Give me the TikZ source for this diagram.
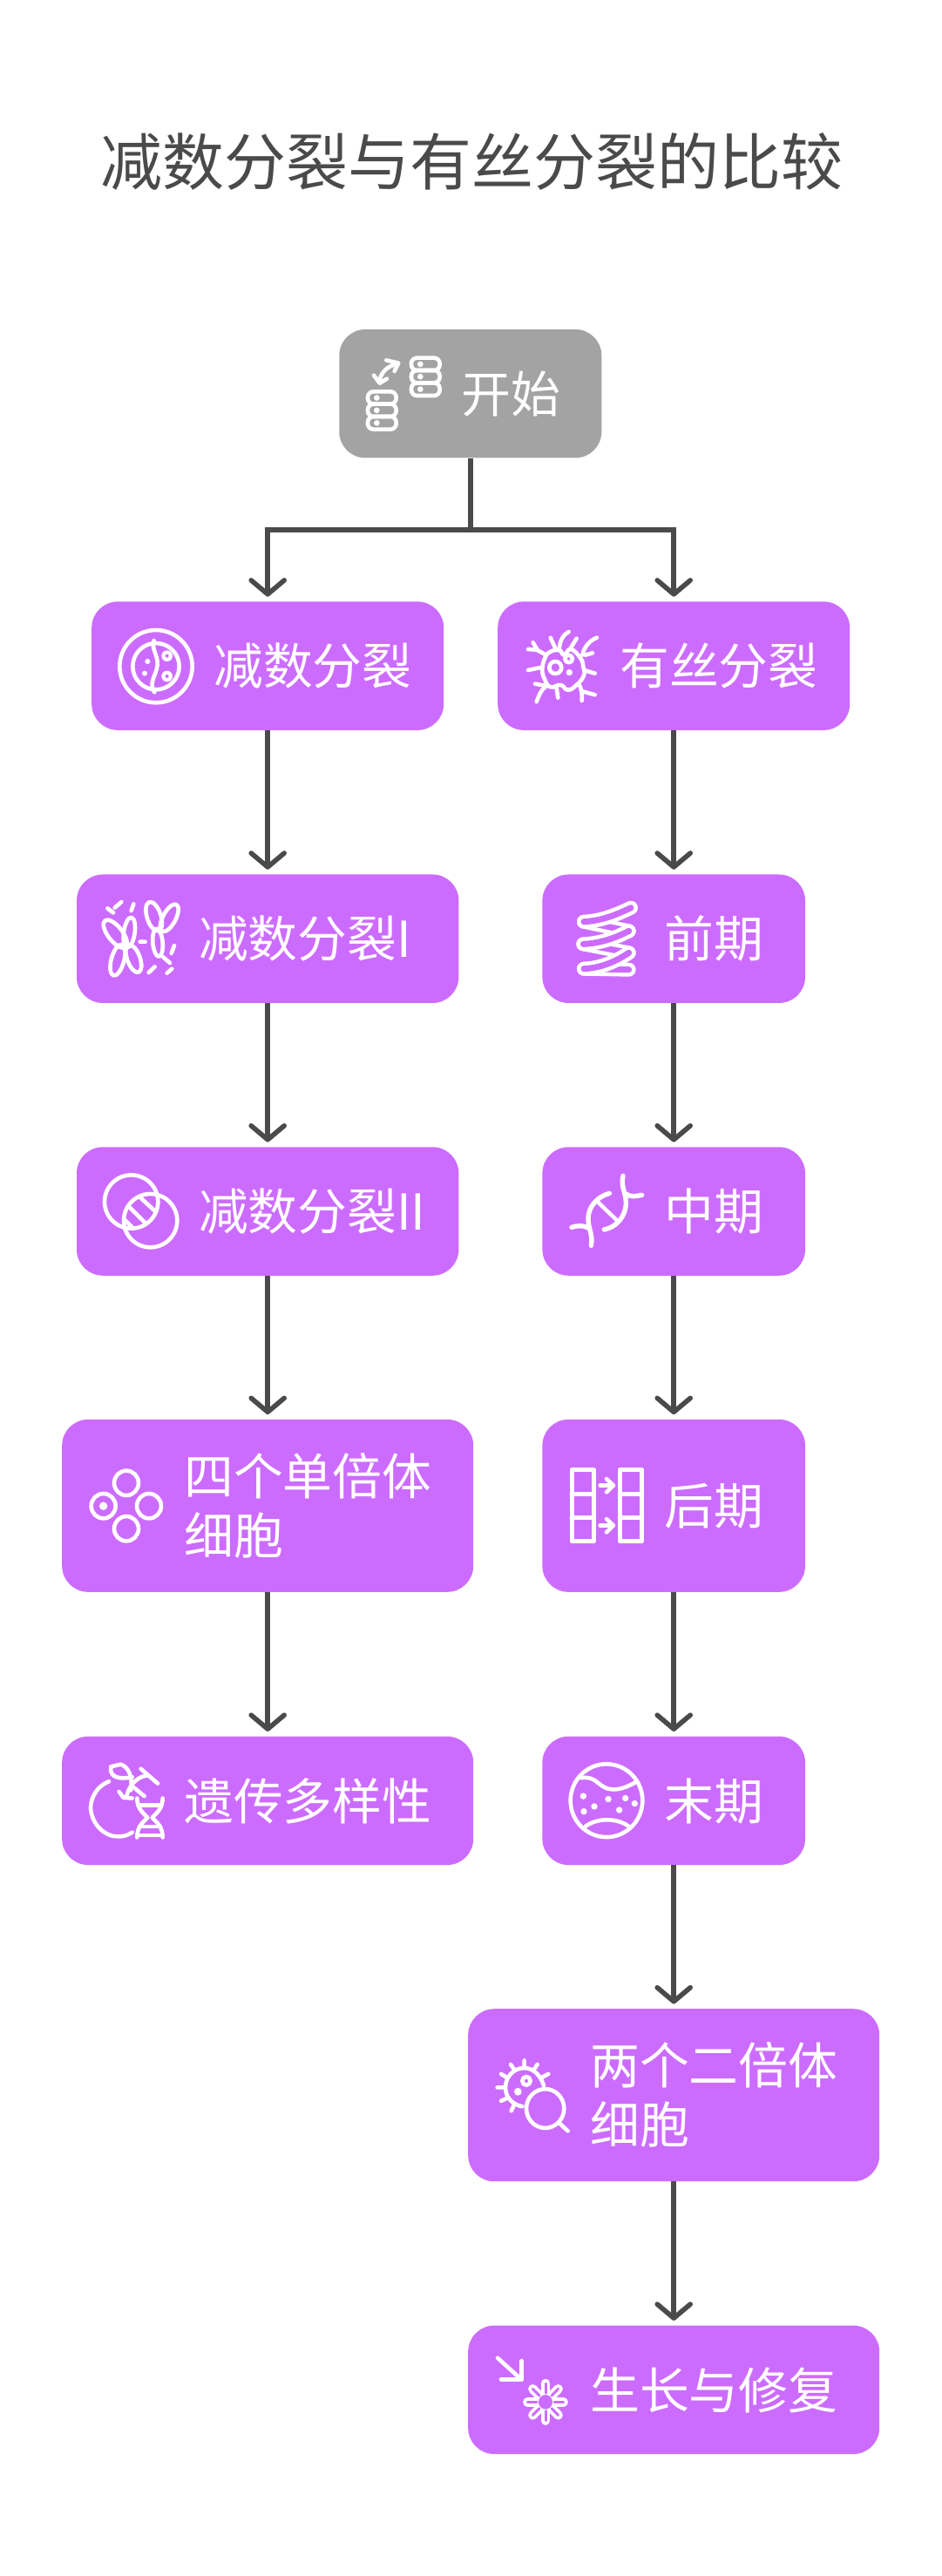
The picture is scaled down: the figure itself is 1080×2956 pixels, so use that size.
\documentclass[tikz,border=0pt]{standalone}
\usepackage{fontspec}
\setmainfont{Noto Sans CJK SC}
\usetikzlibrary{arrows.meta}
\definecolor{purp}{HTML}{CC6CFF}
\definecolor{greybox}{HTML}{A3A3A3}
\definecolor{ink}{HTML}{4A4A4A}
\newcommand{\lbst}{\rule[-12.3pt]{0pt}{68pt}}
\newcommand{\bt}[3]{\parbox{#1pt}{\fontsize{56.8pt}{68pt}\selectfont\leftskip=#2pt\relax\rightskip=0pt plus 1fil\relax #3}}
\tikzset{
 flowbox/.style={rounded corners=30pt,inner sep=0pt,fill=purp,text=white,minimum height=147.5pt},
 tallbox/.style={flowbox,minimum height=198pt},
 startbox/.style={flowbox,fill=greybox},
 link/.style={draw=ink,line width=5.6pt},
 arrowlink/.style={link,-{Straight Barb[length=16pt,width=38pt,round]},shorten >=5.5pt},
 icon/.style={draw=white,line width=4.6pt,line cap=round,line join=round},
 idot/.style={fill=white,draw=none},
 crop/.style n args={3}{xshift=#1pt,yshift=-#2pt,x=0.33333pt,y=#3pt},
}
\begin{document}
\begin{tikzpicture}[x=1pt,y=-1pt]
\useasboundingbox[fill=white] (0,0) rectangle (1080,2956);
\node[text=ink,inner sep=0pt,font=\fontsize{71pt}{80pt}\selectfont] (title) at (541,185) {减数分裂与有丝分裂的比较};

\node[startbox,minimum width=301pt] (start) at (539.8,451.7) {\bt{301}{140}{\lbst 开始}};
\node[flowbox,minimum width=404pt] (meiosis) at (307.2,764.1) {\bt{404}{140}{\lbst 减数分裂}};
\node[flowbox,minimum width=404pt] (mitosis) at (773.2,764.1) {\bt{404}{140}{\lbst 有丝分裂}};
\node[flowbox,minimum width=438.4pt] (mone) at (307.2,1077.2) {\bt{438.4}{140}{\lbst 减数分裂I}};
\node[flowbox,minimum width=301.6pt] (prophase) at (773.2,1077.2) {\bt{301.6}{140}{\lbst 前期}};
\node[flowbox,minimum width=438.4pt] (mtwo) at (307.2,1390) {\bt{438.4}{140}{\lbst 减数分裂II}};
\node[flowbox,minimum width=301.6pt] (metaphase) at (773.2,1390) {\bt{301.6}{140}{\lbst 中期}};
\node[tallbox,minimum width=472pt] (four) at (307.2,1727.8) {\bt{472}{140}{\lbst 四个单倍体\\\lbst 细胞}};
\node[tallbox,minimum width=301.6pt] (anaphase) at (773.2,1727.8) {\bt{301.6}{140}{\lbst 后期}};
\node[flowbox,minimum width=472pt] (diversity) at (307.2,2066.3) {\bt{472}{140}{\lbst 遗传多样性}};
\node[flowbox,minimum width=301.6pt] (telophase) at (773.2,2066.3) {\bt{301.6}{140}{\lbst 末期}};
\node[tallbox,minimum width=472pt] (two) at (773.2,2404.2) {\bt{472}{140}{\lbst 两个二倍体\\\lbst 细胞}};
\node[flowbox,minimum width=472pt] (growth) at (773.2,2742.3) {\bt{472}{140}{\lbst 生长与修复}};

\coordinate (junction) at (start.south |- 0,608);
\draw[link] (start.south) -- (junction);
\draw[arrowlink] (junction) -| (meiosis.north);
\draw[arrowlink] (junction) -| (mitosis.north);
\draw[arrowlink] (meiosis) -- (mone);
\draw[arrowlink] (mone) -- (mtwo);
\draw[arrowlink] (mtwo) -- (four);
\draw[arrowlink] (four) -- (diversity);
\draw[arrowlink] (mitosis) -- (prophase);
\draw[arrowlink] (prophase) -- (metaphase);
\draw[arrowlink] (metaphase) -- (anaphase);
\draw[arrowlink] (anaphase) -- (telophase);
\draw[arrowlink] (telophase) -- (two);
\draw[arrowlink] (two) -- (growth);

% start icon
\begin{scope}[crop={380}{370}{-0.33333}]
\foreach \dx/\dy in {0/0,-150/116}{
 \begin{scope}[xshift=\dx*0.33333pt,yshift=-\dy*0.33333pt]
 \foreach \ya/\yb in {122/165,165/208,208/252}{
  \draw[icon,rounded corners=6.5pt] (276,\ya) rectangle (374,\yb);
  \fill[idot] (307,{(\ya+\yb)/2}) circle (10);
 }
 \end{scope}
}
\draw[icon] (167,200) .. controls (172,170) and (195,150) .. (228,142);
\draw[icon] (147,182) -- (167,209) -- (192,194);
\draw[icon] (190,130) -- (232,140) -- (218,168);
\end{scope}

% meiosis icon
\begin{scope}[crop={80}{680}{-0.33333}]
\draw[icon] (297,254) circle (125);
\draw[icon] (297,254) circle (80);
\draw[icon] (290,165) .. controls (280,195) and (305,215) .. (302,250) .. controls (298,285) and (270,310) .. (292,343);
\fill[idot] (268,237) circle (9) (258,278) circle (9);
\fill[idot] (335,218) circle (19) (335,288) circle (19);
\fill[purp] (335,218) circle (6) (335,288) circle (6);
\end{scope}

% mitosis icon
\begin{scope}[crop={560}{680}{-0.33333}]
\draw[icon] plot[smooth cycle,tension=0.8] coordinates {(212,205) (245,198) (262,215) (285,195) (318,225) (328,255) (330,285) (305,318) (275,335) (250,318) (215,325) (195,298) (187,265) (195,228)};
\draw[icon] (232,258) circle (21);
\draw[icon] (278,228) circle (13);
\fill[idot] (280,275) circle (11);
\draw[icon] (215,155) -- (232,192);
\draw[icon] (245,195) .. controls (248,165) and (258,145) .. (278,135);
\draw[icon] (285,190) -- (305,158);
\draw[icon] (325,215) .. controls (332,185) and (350,165) .. (375,155);
\draw[icon] (335,215) -- (360,208);
\draw[icon] (138,195) -- (168,197) -- (195,212);
\draw[icon] (155,172) -- (170,197);
\draw[icon] (138,267) -- (187,257);
\draw[icon] (330,267) -- (368,278);
\draw[icon] (162,314) -- (205,322);
\draw[icon] (200,322) .. controls (182,335) and (175,355) .. (167,376);
\draw[icon] (236,328) -- (241,362);
\draw[icon] (313,315) .. controls (322,330) and (325,350) .. (323,372);
\draw[icon] (325,340) -- (368,352);
\end{scope}

% meiosis I icon
\begin{scope}[crop={80}{990}{-0.33333}]
\draw[icon,rotate around={38:(157,245)}] (157,245) circle [x radius=25,y radius=58];
\draw[icon,rotate around={-8:(205,240)}] (205,240) circle [x radius=19,y radius=52];
\draw[icon,rotate around={-15:(165,335)}] (165,335) circle [x radius=22,y radius=55];
\draw[icon,rotate around={20:(220,330)}] (220,330) circle [x radius=22,y radius=50];
\draw[icon,rotate around={18:(290,185)}] (290,185) circle [x radius=24,y radius=52];
\draw[icon,rotate around={-28:(343,190)}] (343,190) circle [x radius=22,y radius=52];
\draw[icon,rotate around={5:(303,275)}] (303,275) circle [x radius=17,y radius=48];
\draw[icon] (130,157) -- (150,172) (155,155) -- (178,135) (212,165) -- (220,142) (242,272) -- (260,272) (350,312) -- (360,285) (322,325) -- (345,345) (272,378) -- (293,358) (335,380) -- (352,365);
\end{scope}

% prophase spring
\begin{scope}[crop={610}{990}{-0.33333}]
\draw[line width=16pt,white,line cap=round] (180,203) -- (335,235) (178,280) -- (335,310) (180,365) -- (335,368);
\draw[line width=7pt,purp,line cap=round] (180,203) -- (335,235) (178,280) -- (335,310) (180,365) -- (335,368);
\draw[line width=16pt,white,line cap=round] (180,203) .. controls (240,200) and (290,180) .. (342,155);
\draw[line width=7pt,purp,line cap=round] (180,203) .. controls (240,200) and (290,180) .. (342,155);
\draw[line width=16pt,white,line cap=round] (178,280) .. controls (240,277) and (290,258) .. (335,235);
\draw[line width=7pt,purp,line cap=round] (178,280) .. controls (240,277) and (290,258) .. (335,235);
\draw[line width=16pt,white,line cap=round] (180,365) .. controls (240,362) and (290,340) .. (335,310);
\draw[line width=7pt,purp,line cap=round] (180,365) .. controls (240,362) and (290,340) .. (335,310);
\end{scope}

% meiosis II icon
\begin{scope}[crop={80}{1310}{-0.33333}]
\draw[icon] (212,207) circle (92);
\draw[icon] (278,272) circle (92);
\begin{scope}
\clip (212,207) circle (92);
\clip (278,272) circle (92);
\draw[icon,line cap=butt] (235,185) -- (300,245) (195,215) -- (270,290) (175,255) -- (230,310);
\end{scope}
\end{scope}

% metaphase DNA
\begin{scope}[crop={610}{1310}{-0.33333},icon/.append style={line width=5.4pt}]
\draw[icon] (315,118) .. controls (306,155) and (325,175) .. (325,210) .. controls (325,260) and (290,295) .. (250,303);
\draw[icon] (325,180) .. controls (340,192) and (360,188) .. (380,184);
\draw[icon] (205,358) .. controls (212,320) and (195,300) .. (195,265) .. controls (195,225) and (225,190) .. (268,178);
\draw[icon] (138,295) .. controls (160,288) and (180,288) .. (197,298);
\draw[icon,line width=4.4pt] (225,205) -- (298,275);
\end{scope}

% four-cells icon
\begin{scope}[crop={70}{1620}{-0.338}]
\draw[icon] (225,242) circle (42) (303,320) circle (42) (225,397) circle (42) (146,320) circle (42);
\fill[idot] (146,320) circle (14);
\end{scope}

% diversity icon
\begin{scope}[crop={70}{1620}{-0.338}]
\draw[icon] (165,1255) .. controls (125,1270) and (102,1310) .. (102,1345) .. controls (105,1400) and (150,1442) .. (195,1442) .. controls (215,1442) and (230,1438) .. (245,1428);
\draw[icon] (172,1205) -- (205,1197) .. controls (235,1205) and (248,1245) .. (240,1285);
\draw[icon] (172,1205) .. controls (165,1240) and (200,1250) .. (245,1240);
\draw[icon] (295,1235) .. controls (260,1240) and (232,1270) .. (225,1310);
\draw[icon] (200,1290) -- (215,1310) -- (245,1312);
\draw[icon] (275,1212) -- (333,1262);
\draw[icon] (250,1275) -- (287,1305);
\draw[icon] (262,1312) .. controls (262,1345) and (280,1360) .. (298,1378) .. controls (280,1395) and (262,1410) .. (262,1445);
\draw[icon] (350,1312) .. controls (350,1345) and (332,1360) .. (314,1378) .. controls (332,1395) and (350,1410) .. (350,1445);
\draw[icon] (265,1335) -- (345,1335) (270,1408) -- (342,1408) (262,1438) -- (350,1438);
\end{scope}

% anaphase icon and telophase icon
\begin{scope}[crop={610}{1620}{-0.338}]
\foreach \xa/\xb in {138/214,304/380}{
 \draw[icon,line width=5pt,line join=round] (\xa,198) rectangle (\xb,440);
 \draw[icon,line width=5pt] (\xa,280) -- (\xb,280) (\xa,360) -- (\xb,360);
}
\foreach \ya in {250,386}{
 \draw[icon] (236,\ya) -- (280,\ya);
 \draw[icon] (258,{\ya-22}) -- (282,\ya) -- (258,{\ya+23});
}
\draw[icon] (258,1320) circle (124);
\draw[icon] (170,1243) .. controls (235,1235) and (225,1285) .. (290,1282) .. controls (315,1280) and (335,1270) .. (358,1258);
\draw[icon] (185,1408) .. controls (225,1378) and (295,1378) .. (335,1408);
\fill[idot] (178,1305) circle (11) (216,1340) circle (11) (180,1357) circle (11) (264,1315) circle (11) (323,1312) circle (11) (355,1330) circle (11) (302,1352) circle (11);
\end{scope}

% two-cells icon and growth icon
\begin{scope}[crop={530}{2300}{-0.3444}]
\draw[icon] (282,270) .. controls (270,235) and (245,212) .. (215,212) .. controls (175,212) and (150,245) .. (150,277) .. controls (150,310) and (175,335) .. (208,340);
\draw[icon] (287,347) circle (65);
\draw[icon] (335,395) -- (365,422);
\draw[icon] (222,255) circle (14);
\fill[idot] (193,291) circle (13);
\draw[icon] (215,187) -- (215,212) (168,200) -- (182,220) (260,200) -- (248,218) (298,232) -- (272,245) (122,277) -- (150,277) (135,322) -- (160,310) (170,355) -- (180,335) (135,232) -- (157,245);
\draw[icon] (123,1178) -- (205,1250);
\draw[icon] (205,1188) -- (205,1250) -- (135,1250);
\foreach \a in {0,45,...,315}{
 \draw[white,line width=10.5pt,line cap=round] (288,1325) -- ++(\a:62);
}
\foreach \a in {0,45,...,315}{
 \draw[purp,line width=3pt,line cap=round] (288,1325) ++(\a:30) -- ++(\a:32);
}
\fill[purp] (288,1325) circle (24);
\end{scope}
\end{tikzpicture}
\end{document}
